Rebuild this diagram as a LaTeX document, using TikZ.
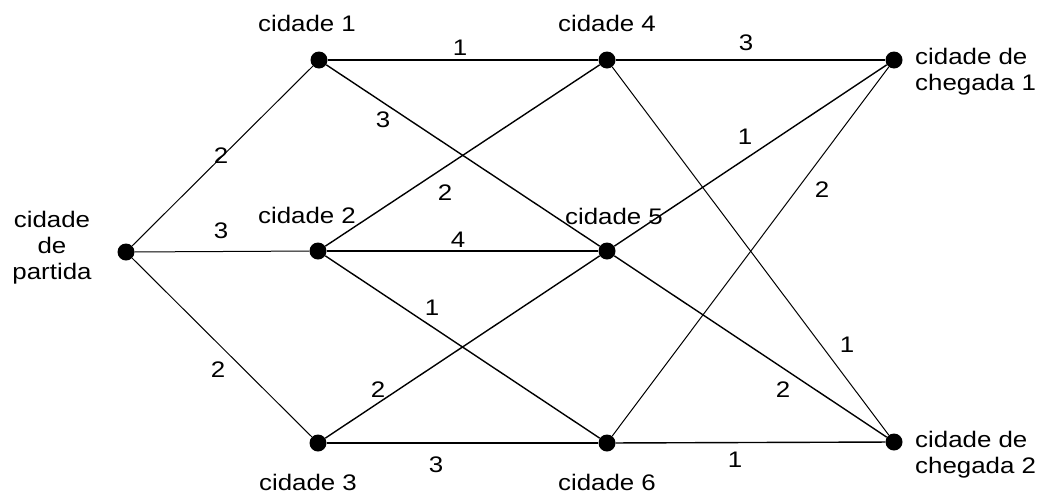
\documentclass[tikz,border=0pt]{standalone}
\usepackage{fontspec}
\setmainfont{Liberation Sans}[FakeStretch=1.15]
\begin{document}
\begin{tikzpicture}[x=1pt,y=-1pt,
  dot/.style={circle,fill=black,inner sep=0pt,minimum size=17pt},
  txt/.style={font=\fontsize{22.5}{26}\selectfont,inner sep=0pt,align=center},
  wt/.style={font=\fontsize{22.5}{26}\selectfont,inner sep=0pt},
  edge/.style={line width=1.4pt},
  thin/.style={line width=1pt}]
\useasboundingbox (0,0) rectangle (1045,496);
\node[dot] (p) at (126,252) {};
\node[dot] (c1) at (319,60) {};
\node[dot] (c2) at (318,251) {};
\node[dot] (c3) at (318,443) {};
\node[dot] (c4) at (607,60) {};
\node[dot] (c5) at (607,251) {};
\node[dot] (c6) at (607,443) {};
\node[dot] (f1) at (894,60) {};
\node[dot] (f2) at (894,442) {};
% edges
\draw[thin] (p) -- (c1);
\draw[thin] (p) -- (c2);
\draw[thin] (p) -- (c3);
\draw[edge] (c1) -- (c4);
\draw[edge] (c1) -- (c5);
\draw[edge] (c2) -- (c4);
\draw[edge] (c2) -- (c5);
\draw[edge] (c2) -- (c6);
\draw[edge] (c3) -- (c5);
\draw[edge] (c3) -- (c6);
\draw[edge] (c4) -- (f1);
\draw[thin] (c4) -- (f2);
\draw[edge] (c5) -- (f1);
\draw[edge] (c5) -- (f2);
\draw[thin] (c6) -- (f1);
\draw[edge] (c6) -- (f2);
% city labels
\node[txt] (lp) at (52,248) {cidade\\de\\partida};
\node[txt] (l1) at (307,23) {cidade 1};
\node[txt] (l2) at (307,215) {cidade 2};
\node[txt] (l3) at (308,482) {cidade 3};
\node[txt] (l4) at (607,23) {cidade 4};
\node[txt] (l5) at (614,216) {cidade 5};
\node[txt] (l6) at (607,482) {cidade 6};
\node[txt,align=left,anchor=west] (lf1) at (915,72) {cidade de\\chegada 1};
\node[txt,align=left,anchor=west] (lf2) at (915,455) {cidade de\\chegada 2};
% weights
\node[wt] (w1) at (221,156) {2};
\node[wt] (w2) at (221,231) {3};
\node[wt] (w3) at (218,370) {2};
\node[wt] (w4) at (460,48) {1};
\node[wt] (w5) at (383,120) {3};
\node[wt] (w6) at (445,193) {2};
\node[wt] (w7) at (458,240) {4};
\node[wt] (w8) at (432,308) {1};
\node[wt] (w9) at (378,390) {2};
\node[wt] (w10) at (436,465) {3};
\node[wt] (w11) at (746,43) {3};
\node[wt] (w12) at (745,137) {1};
\node[wt] (w13) at (822,190) {2};
\node[wt] (w14) at (847,345) {1};
\node[wt] (w15) at (783,390) {2};
\node[wt] (w16) at (735,460) {1};
\end{tikzpicture}
\end{document}
